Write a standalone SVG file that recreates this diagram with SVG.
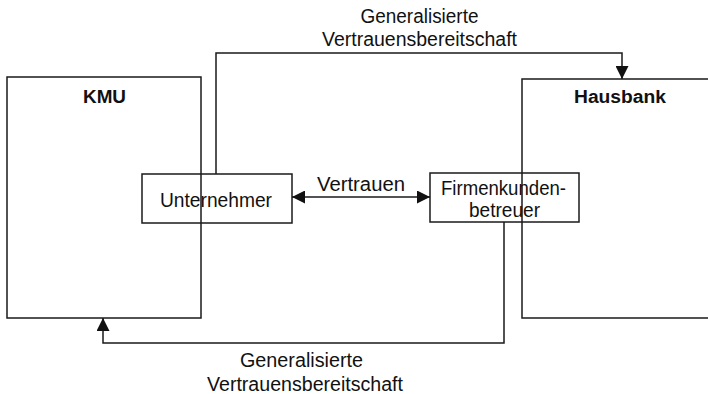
<svg xmlns="http://www.w3.org/2000/svg" width="708" height="394" viewBox="0 0 708 394">
<defs>
<style>
.box{fill:none;stroke:#1a1a1a;stroke-width:1.5}
.line{fill:none;stroke:#1a1a1a;stroke-width:1.5}
.t{font-family:"Liberation Sans",Arial,sans-serif;font-size:20px;fill:#111;text-anchor:middle}
.b{font-family:"Liberation Sans",Arial,sans-serif;font-size:18px;font-weight:bold;fill:#111;text-anchor:middle}
</style>
<marker id="ahb" viewBox="0 0 10 10" refX="10" refY="5" markerWidth="13" markerHeight="13" markerUnits="userSpaceOnUse" orient="auto-start-reverse">
<path d="M0,0 L10,5 L0,10 z" fill="#111"/>
</marker>
</defs>
<rect width="708" height="394" fill="#fff"/>
<g id="kmu">
<rect class="box" x="7" y="77" width="194" height="241"/>
<text class="b" x="104.5" y="103" textLength="43" lengthAdjust="spacingAndGlyphs">KMU</text>
</g>
<g id="hausbank">
<path class="box" d="M712,79 H522 V318 H712"/>
<text class="b" x="620" y="103" textLength="92" lengthAdjust="spacingAndGlyphs">Hausbank</text>
</g>
<g id="unternehmer">
<rect class="box" x="142" y="174" width="150" height="49"/>
<text class="t" x="216" y="207" textLength="112" lengthAdjust="spacingAndGlyphs">Unternehmer</text>
</g>
<g id="firmenkundenbetreuer">
<rect class="box" x="430" y="173" width="149" height="49"/>
<text class="t" x="503.5" y="195" textLength="125" lengthAdjust="spacingAndGlyphs">Firmenkunden-</text>
<text class="t" x="504.5" y="217" textLength="71" lengthAdjust="spacingAndGlyphs">betreuer</text>
</g>
<g id="connectors">
<path class="line" d="M216,174 V53 H622 V79" marker-end="url(#ahb)"/>
<path class="line" d="M504,222 V343 H103 V318" marker-end="url(#ahb)"/>
<path class="line" d="M292,197 H430" marker-start="url(#ahb)" marker-end="url(#ahb)"/>
<text class="t" x="419.5" y="23" textLength="118" lengthAdjust="spacingAndGlyphs">Generalisierte</text>
<text class="t" x="419.5" y="46" textLength="195" lengthAdjust="spacingAndGlyphs">Vertrauensbereitschaft</text>
<text class="t" x="361" y="191" textLength="88" lengthAdjust="spacingAndGlyphs">Vertrauen</text>
<text class="t" x="301.5" y="367" textLength="123" lengthAdjust="spacingAndGlyphs">Generalisierte</text>
<text class="t" x="305" y="391" textLength="196" lengthAdjust="spacingAndGlyphs">Vertrauensbereitschaft</text>
</g>
</svg>
